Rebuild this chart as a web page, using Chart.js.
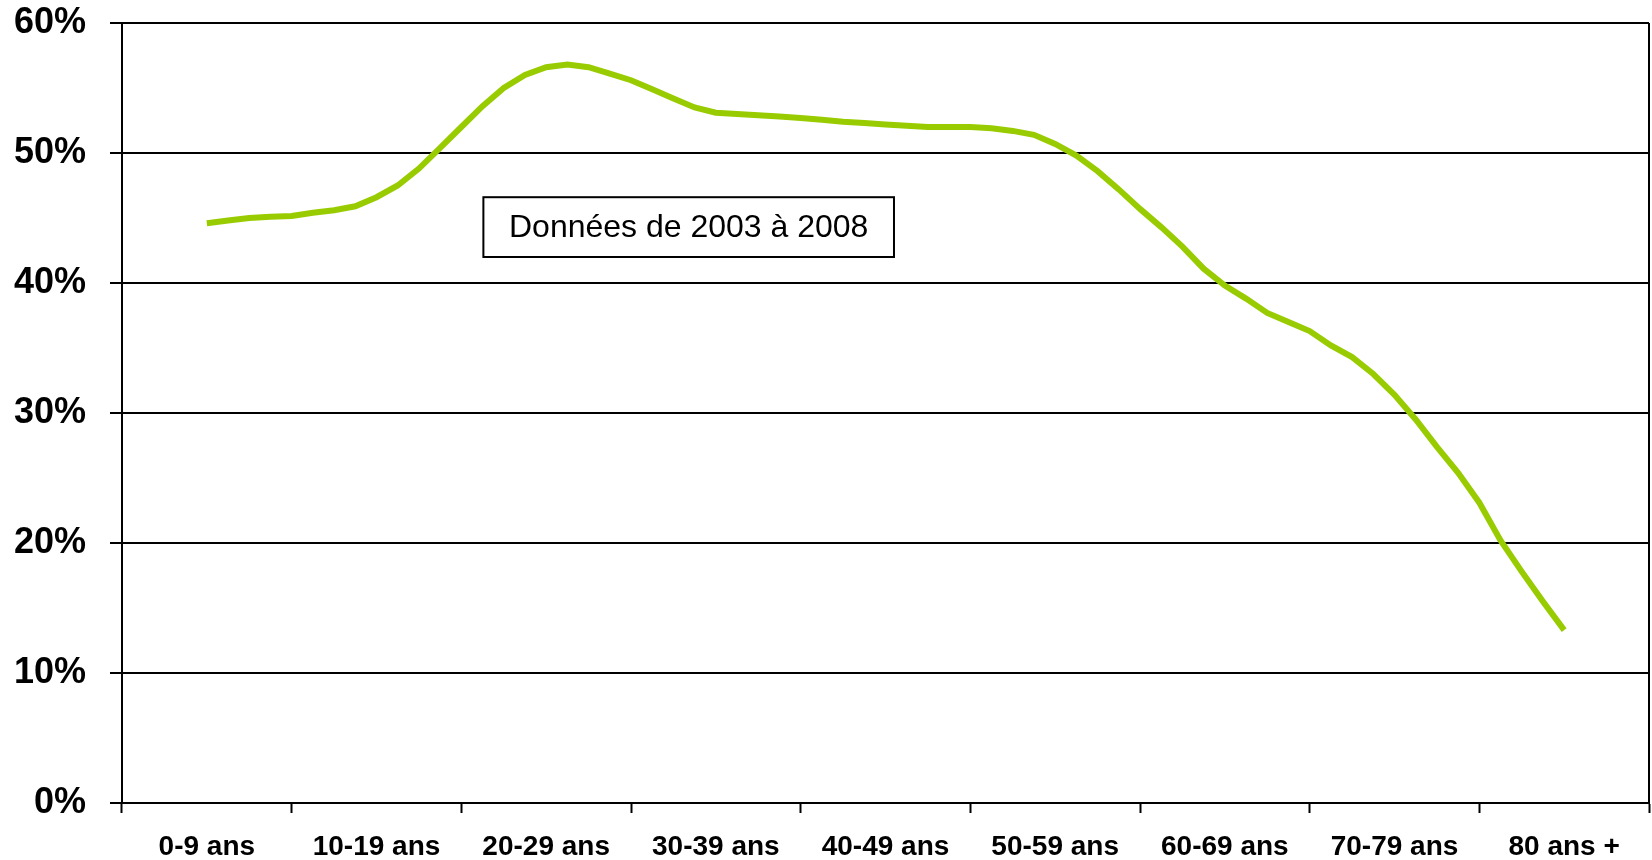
<!DOCTYPE html>
<html>
<head>
<meta charset="utf-8">
<title>Données de 2003 à 2008</title>
<script src="https://cdn.jsdelivr.net/npm/chart.js@4.4.1/dist/chart.umd.min.js"></script>
<style>
  html, body { margin: 0; padding: 0; background: #fff; }
</style>
</head>
<body>
<canvas id="chart" width="1652" height="860"></canvas>
<script>
const ageGroups = ['0-9 ans', '10-19 ans', '20-29 ans', '30-39 ans', '40-49 ans',
                   '50-59 ans', '60-69 ans', '70-79 ans', '80 ans +'];
const yTickLabels = ['0%', '10%', '20%', '30%', '40%', '50%', '60%'];

// position along the age axis (in age-group units) and value in %
const pointPositions = [
  0, 0.125, 0.25, 0.375, 0.5, 0.625, 0.75, 0.875,
  1, 1.125, 1.25, 1.375, 1.5, 1.625, 1.75, 1.875,
  2, 2.125, 2.25, 2.375, 2.5, 2.625, 2.75, 2.875,
  3, 3.125, 3.25, 3.375, 3.5, 3.625, 3.75, 3.875,
  4, 4.125, 4.25, 4.375, 4.5, 4.625, 4.75, 4.875,
  5, 5.125, 5.25, 5.375, 5.5, 5.625, 5.75, 5.875,
  6, 6.125, 6.25, 6.375, 6.5, 6.625, 6.75, 6.875,
  7, 7.125, 7.25, 7.375, 7.5, 7.625, 7.75, 7.875,
  8
];
const shareValues = [
  44.6, 44.8, 45.0, 45.1, 45.15, 45.4, 45.6, 45.9,
  46.6, 47.5, 48.8, 50.4, 52.0, 53.6, 55.0, 56.0,
  56.6, 56.8, 56.6, 56.1, 55.6, 54.9, 54.2, 53.5,
  53.1, 53.0, 52.9, 52.8, 52.7, 52.55, 52.4, 52.3,
  52.2, 52.1, 52.0, 52.0, 52.0, 51.9, 51.7, 51.4,
  50.7, 49.8, 48.6, 47.2, 45.7, 44.3, 42.8, 41.1,
  39.8, 38.8, 37.7, 37.0, 36.3, 35.2, 34.3, 33.0,
  31.4, 29.5, 27.4, 25.4, 23.1, 20.2, 17.8, 15.5,
  13.3
];
const noteText = 'Données de 2003 à 2008';

const FONT = '"Liberation Sans", Arial, Helvetica, sans-serif';

// right edge of the plot frame + the text box
const framePlugin = {
  id: 'frame',
  afterDraw(chart, args, opts) {
    const { ctx, chartArea, scales } = chart;
    ctx.save();
    ctx.strokeStyle = '#000';
    ctx.lineWidth = 2;
    ctx.beginPath();
    ctx.moveTo(chartArea.right, chartArea.top);
    ctx.lineTo(chartArea.right, chartArea.bottom);
    ctx.stroke();

    const b = opts.box;
    const x1 = scales.xLine.getPixelForValue(b.xMin);
    const x2 = scales.xLine.getPixelForValue(b.xMax);
    const y1 = scales.y.getPixelForValue(b.yMax);
    const y2 = scales.y.getPixelForValue(b.yMin);
    ctx.fillStyle = '#fff';
    ctx.fillRect(x1, y1, x2 - x1, y2 - y1);
    ctx.strokeRect(x1, y1, x2 - x1, y2 - y1);
    ctx.fillStyle = '#000';
    ctx.font = '32px ' + FONT;
    ctx.textAlign = 'center';
    ctx.textBaseline = 'middle';
    ctx.fillText(b.text, (x1 + x2) / 2, (y1 + y2) / 2 + 1);
    ctx.restore();
  }
};

new Chart(document.getElementById('chart'), {
  type: 'line',
  data: {
    labels: ageGroups,
    datasets: [{
      data: pointPositions.map((p, i) => ({ x: p, y: shareValues[i] })),
      xAxisID: 'xLine',
      yAxisID: 'y',
      borderColor: '#99CC00',
      borderWidth: 6,
      pointRadius: 0,
      tension: 0,
      fill: false
    }]
  },
  options: {
    responsive: false,
    animation: false,
    devicePixelRatio: 1,
    layout: { padding: { top: 23, right: 3, left: 0, bottom: 0 } },
    plugins: {
      legend: { display: false },
      tooltip: { enabled: false },
      frame: { box: { xMin: 1.63, xMax: 4.05, yMin: 42.0, yMax: 46.6, text: noteText } }
    },
    scales: {
      x: {
        type: 'category',
        labels: ageGroups,
        offset: true,
        grid: { offset: true, drawOnChartArea: false, tickLength: 10, tickColor: '#000', tickWidth: 2 },
        border: { color: '#000', width: 2 },
        ticks: {
          color: '#000',
          font: { family: FONT, size: 28, weight: 'bold' },
          padding: 17,
          maxRotation: 0,
          autoSkip: false
        },
        afterFit: s => { s.height = 57; }
      },
      xLine: { type: 'linear', display: false, min: -0.5, max: 8.5 },
      y: {
        min: 0,
        max: 60,
        ticks: {
          stepSize: 10,
          color: '#000',
          font: { family: FONT, size: 36, weight: 'bold' },
          padding: 24,
          callback: v => yTickLabels[v / 10]
        },
        grid: { color: '#000', lineWidth: 2, tickLength: 12 },
        border: { color: '#000', width: 2 },
        afterFit: s => { s.width = 122; s.paddingTop = 0; s.paddingBottom = 0; }
      }
    }
  },
  plugins: [framePlugin]
});
</script>
</body>
</html>
